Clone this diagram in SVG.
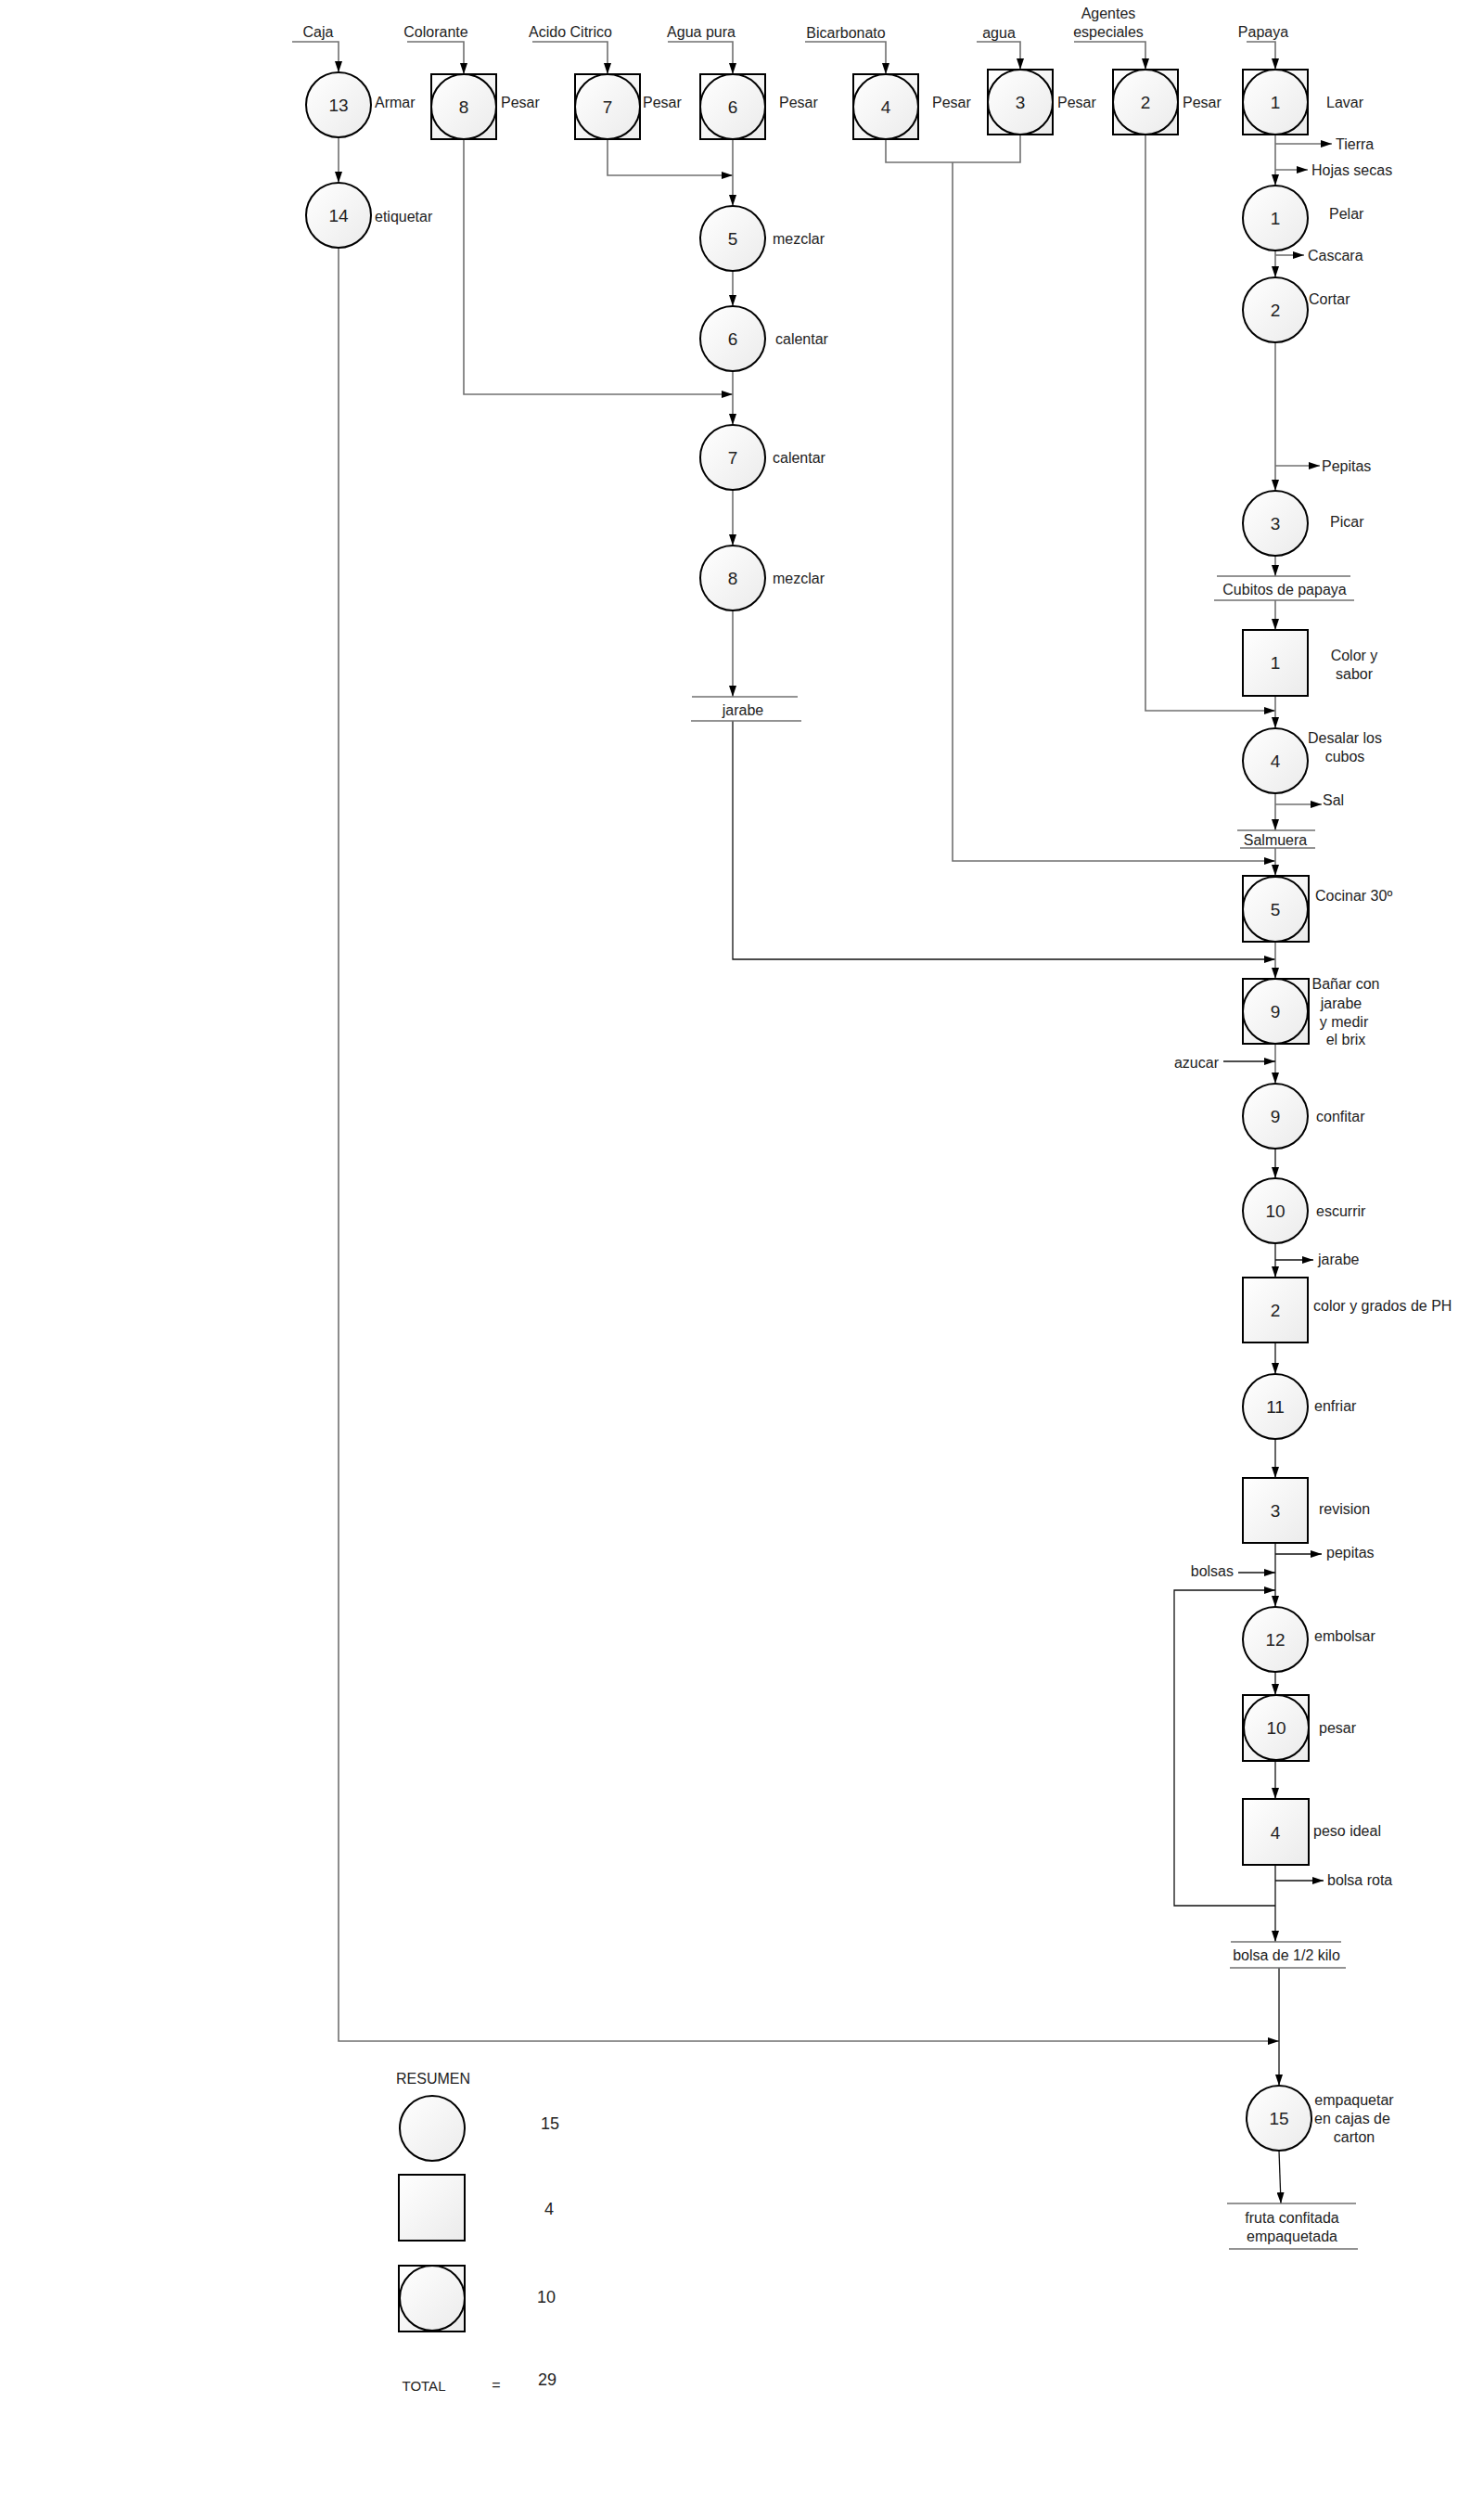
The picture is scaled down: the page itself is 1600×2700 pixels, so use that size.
<svg xmlns="http://www.w3.org/2000/svg" width="1600" height="2700" viewBox="0 0 1600 2700">
<defs>
<linearGradient id="g" x1="0" y1="0" x2="1" y2="1">
<stop offset="0" stop-color="#ffffff"/>
<stop offset="1" stop-color="#ebebeb"/>
</linearGradient>
<marker id="a" markerUnits="userSpaceOnUse" markerWidth="12" markerHeight="8" refX="12" refY="4" orient="auto">
<path d="M0,0 L12,4 L0,8 z" fill="#000"/>
</marker>
</defs>
<style>
.n{fill:url(#g);stroke:#000;stroke-width:2}
.t{font-family:"Liberation Sans",Arial,sans-serif;font-size:16px;fill:#222}
.num{font-family:"Liberation Sans",Arial,sans-serif;font-size:19px;fill:#222;text-anchor:middle}
.m{text-anchor:middle}
.e{text-anchor:end}
.s{font-size:15px}
.c{fill:none;stroke:#707070;stroke-width:1.6}
.k{fill:none;stroke:#111;stroke-width:1.3}
.ar{marker-end:url(#a)}
</style>
<rect width="1600" height="2700" fill="#fff"/>

<g id="connectors">
<path class="c ar" d="M315,45 H365 V78"/>
<path class="c ar" d="M365,148 V197"/>
<path class="c ar" d="M365,267 V2200 H1379"/>
<path class="c ar" d="M439,45 H500 V80"/>
<path class="c ar" d="M500,150 V425 H790"/>
<path class="c ar" d="M574,45 H655 V80"/>
<path class="c ar" d="M655,150 V189 H790"/>
<path class="c ar" d="M720,45 H790 V80"/>
<path class="c ar" d="M790,150 V222"/>
<path class="c ar" d="M790,292 V330"/>
<path class="c ar" d="M790,400 V458"/>
<path class="c ar" d="M790,528 V588"/>
<path class="c ar" d="M790,658 V751"/>
<path class="k ar" d="M790,777 V1034 H1375"/>
<path class="c ar" d="M868,45 H955 V80"/>
<path class="c ar" d="M1053,45 H1100 V75"/>
<path class="c" d="M955,150 V175 H1100 V145"/>
<path class="c ar" d="M1027,175 V928 H1375"/>
<path class="c ar" d="M1158,45 H1235 V75"/>
<path class="c ar" d="M1235,145 V766 H1375"/>
<path class="c ar" d="M1344,45 H1375 V75"/>
<path class="c ar" d="M1375,145 V200"/>
<path class="c ar" d="M1375,155 H1436"/>
<path class="c ar" d="M1375,183 H1410"/>
<path class="c ar" d="M1375,270 V299"/>
<path class="c ar" d="M1375,275 H1406"/>
<path class="c ar" d="M1375,369 V529"/>
<path class="c ar" d="M1375,502 H1423"/>
<path class="c ar" d="M1375,599 V621"/>
<path class="c ar" d="M1375,647 V679"/>
<path class="c ar" d="M1375,750 V785"/>
<path class="c ar" d="M1375,855 V895"/>
<path class="c ar" d="M1375,867 H1425"/>
<path class="c ar" d="M1375,914 V944"/>
<path class="c ar" d="M1375,1015 V1055"/>
<path class="c ar" d="M1375,1125 V1168"/>
<path class="k ar" d="M1319,1144 H1375"/>
<path class="k ar" d="M1375,1238 V1270"/>
<path class="k ar" d="M1375,1340 V1377"/>
<path class="k ar" d="M1375,1358 H1416"/>
<path class="k ar" d="M1375,1447 V1481"/>
<path class="k ar" d="M1375,1551 V1593"/>
<path class="k ar" d="M1375,1663 V1732"/>
<path class="k ar" d="M1375,1675 H1425"/>
<path class="k ar" d="M1335,1695 H1375"/>
<path class="k ar" d="M1375,2054 H1266 V1714 H1375"/>
<path class="k ar" d="M1375,1802 V1827"/>
<path class="k ar" d="M1375,1898 V1939"/>
<path class="k ar" d="M1375,2010 V2093"/>
<path class="k ar" d="M1375,2027 H1427"/>
<path class="k ar" d="M1379,2121 V2248"/>
<path class="k ar" d="M1379,2318 L1381,2375"/>
</g>

<g id="inputs">
<text class="t m" x="343" y="40">Caja</text>
<text class="t m" x="470" y="40">Colorante</text>
<text class="t m" x="615" y="40">Acido Citrico</text>
<text class="t m" x="756" y="40">Agua pura</text>
<text class="t m" x="912" y="41">Bicarbonato</text>
<text class="t m" x="1077" y="41">agua</text>
<text class="t m" x="1195" y="20">Agentes</text>
<text class="t m" x="1195" y="40">especiales</text>
<text class="t m" x="1362" y="40">Papaya</text>
</g>

<g id="n13"><circle class="n" cx="365" cy="113" r="35"/><text class="num" x="365" y="120">13</text><text class="t" x="404" y="116">Armar</text></g>
<g id="n14"><circle class="n" cx="365" cy="232" r="35"/><text class="num" x="365" y="239">14</text><text class="t" x="404" y="239">etiquetar</text></g>
<g id="nc8"><rect class="n" x="465" y="80" width="70" height="70"/><circle class="n" cx="500" cy="115" r="35"/><text class="num" x="500" y="122">8</text><text class="t" x="540" y="116">Pesar</text></g>
<g id="nc7"><rect class="n" x="620" y="80" width="70" height="70"/><circle class="n" cx="655" cy="115" r="35"/><text class="num" x="655" y="122">7</text><text class="t" x="693" y="116">Pesar</text></g>
<g id="nc6"><rect class="n" x="755" y="80" width="70" height="70"/><circle class="n" cx="790" cy="115" r="35"/><text class="num" x="790" y="122">6</text><text class="t" x="840" y="116">Pesar</text></g>
<g id="nc4"><rect class="n" x="920" y="80" width="70" height="70"/><circle class="n" cx="955" cy="115" r="35"/><text class="num" x="955" y="122">4</text><text class="t" x="1005" y="116">Pesar</text></g>
<g id="nc3"><rect class="n" x="1065" y="75" width="70" height="70"/><circle class="n" cx="1100" cy="110" r="35"/><text class="num" x="1100" y="117">3</text><text class="t" x="1140" y="116">Pesar</text></g>
<g id="nc2"><rect class="n" x="1200" y="75" width="70" height="70"/><circle class="n" cx="1235" cy="110" r="35"/><text class="num" x="1235" y="117">2</text><text class="t" x="1275" y="116">Pesar</text></g>
<g id="nc1"><rect class="n" x="1340" y="75" width="70" height="70"/><circle class="n" cx="1375" cy="110" r="35"/><text class="num" x="1375" y="117">1</text><text class="t" x="1430" y="116">Lavar</text></g>

<g id="n5"><circle class="n" cx="790" cy="257" r="35"/><text class="num" x="790" y="264">5</text><text class="t" x="833" y="263">mezclar</text></g>
<g id="n6"><circle class="n" cx="790" cy="365" r="35"/><text class="num" x="790" y="372">6</text><text class="t" x="836" y="371">calentar</text></g>
<g id="n7"><circle class="n" cx="790" cy="493" r="35"/><text class="num" x="790" y="500">7</text><text class="t" x="833" y="499">calentar</text></g>
<g id="n8"><circle class="n" cx="790" cy="623" r="35"/><text class="num" x="790" y="630">8</text><text class="t" x="833" y="629">mezclar</text></g>
<g id="s-jarabe"><path class="c" d="M746,751 H860 M745,777 H864"/><text class="t m" x="801" y="771">jarabe</text></g>

<g id="outputs-top">
<text class="t" x="1440" y="161">Tierra</text>
<text class="t" x="1414" y="189">Hojas secas</text>
<text class="t" x="1410" y="281">Cascara</text>
<text class="t" x="1425" y="508">Pepitas</text>
<text class="t" x="1426" y="868">Sal</text>
</g>

<g id="n1"><circle class="n" cx="1375" cy="235" r="35"/><text class="num" x="1375" y="242">1</text><text class="t" x="1433" y="236">Pelar</text></g>
<g id="n2"><circle class="n" cx="1375" cy="334" r="35"/><text class="num" x="1375" y="341">2</text><text class="t" x="1411" y="328">Cortar</text></g>
<g id="n3"><circle class="n" cx="1375" cy="564" r="35"/><text class="num" x="1375" y="571">3</text><text class="t" x="1434" y="568">Picar</text></g>
<g id="s-cubitos"><path class="c" d="M1312,621 H1456 M1309,647 H1460"/><text class="t m" x="1385" y="641">Cubitos de papaya</text></g>
<g id="i1"><rect class="n" x="1340" y="679" width="70" height="71"/><text class="num" x="1375" y="721">1</text><text class="t m" x="1460" y="712">Color y</text><text class="t m" x="1460" y="732">sabor</text></g>
<g id="n4"><circle class="n" cx="1375" cy="820" r="35"/><text class="num" x="1375" y="827">4</text><text class="t m" x="1450" y="801">Desalar los</text><text class="t m" x="1450" y="821">cubos</text></g>
<g id="s-salmuera"><path class="c" d="M1334,895 H1418 M1337,914 H1418"/><text class="t m" x="1375" y="911">Salmuera</text></g>
<g id="nc5"><rect class="n" x="1340" y="944" width="71" height="71"/><circle class="n" cx="1375" cy="980" r="35"/><text class="num" x="1375" y="987">5</text><text class="t" x="1418" y="971">Cocinar 30º</text></g>
<g id="nc9"><rect class="n" x="1340" y="1055" width="71" height="70"/><circle class="n" cx="1375" cy="1090" r="35"/><text class="num" x="1375" y="1097">9</text><text class="t m" x="1451" y="1066">Bañar con</text><text class="t m" x="1446" y="1087">jarabe</text><text class="t m" x="1449" y="1107">y medir</text><text class="t m" x="1451" y="1126">el brix</text></g>
<text class="t e" x="1314" y="1151">azucar</text>
<g id="n9"><circle class="n" cx="1375" cy="1203" r="35"/><text class="num" x="1375" y="1210">9</text><text class="t" x="1419" y="1209">confitar</text></g>
<g id="n10"><circle class="n" cx="1375" cy="1305" r="35"/><text class="num" x="1375" y="1312">10</text><text class="t" x="1419" y="1311">escurrir</text></g>
<text class="t" x="1421" y="1363">jarabe</text>
<g id="i2"><rect class="n" x="1340" y="1377" width="70" height="70"/><text class="num" x="1375" y="1419">2</text><text class="t" x="1416" y="1413">color y grados de PH</text></g>
<g id="n11"><circle class="n" cx="1375" cy="1516" r="35"/><text class="num" x="1375" y="1523">11</text><text class="t" x="1417" y="1521">enfriar</text></g>
<g id="i3"><rect class="n" x="1340" y="1593" width="70" height="70"/><text class="num" x="1375" y="1635">3</text><text class="t" x="1422" y="1632">revision</text></g>
<text class="t" x="1430" y="1679">pepitas</text>
<text class="t e" x="1330" y="1699">bolsas</text>
<g id="n12"><circle class="n" cx="1375" cy="1767" r="35"/><text class="num" x="1375" y="1774">12</text><text class="t" x="1417" y="1769">embolsar</text></g>
<g id="nc10"><rect class="n" x="1340" y="1827" width="71" height="71"/><circle class="n" cx="1376" cy="1862" r="35"/><text class="num" x="1376" y="1869">10</text><text class="t" x="1422" y="1868">pesar</text></g>
<g id="i4"><rect class="n" x="1340" y="1939" width="71" height="71"/><text class="num" x="1375" y="1982">4</text><text class="t" x="1416" y="1979">peso ideal</text></g>
<text class="t" x="1431" y="2032">bolsa rota</text>
<g id="s-bolsa"><path class="c" d="M1327,2093 H1446 M1326,2121 H1451"/><text class="t m" x="1387" y="2113">bolsa de 1/2 kilo</text></g>
<g id="n15"><circle class="n" cx="1379" cy="2283" r="35"/><text class="num" x="1379" y="2290">15</text><text class="t m" x="1460" y="2269">empaquetar</text><text class="t m" x="1458" y="2289">en cajas de</text><text class="t m" x="1460" y="2309">carton</text></g>
<g id="s-fruta"><path class="c" d="M1323,2375 H1462 M1325,2424 H1464"/><text class="t m" x="1393" y="2396">fruta confitada</text><text class="t m" x="1393" y="2416">empaquetada</text></g>

<g id="resumen">
<text class="t m" x="467" y="2246">RESUMEN</text>
<circle class="n" cx="466" cy="2294" r="35"/>
<text class="t m" x="593" y="2295" style="font-size:18px">15</text>
<rect class="n" x="430" y="2344" width="71" height="71"/>
<text class="t m" x="592" y="2387" style="font-size:18px">4</text>
<rect class="n" x="430" y="2442" width="71" height="71"/>
<circle class="n" cx="466" cy="2477" r="35"/>
<text class="t m" x="589" y="2482" style="font-size:18px">10</text>
<text class="t s m" x="457" y="2577">TOTAL</text>
<text class="t m" x="535" y="2576">=</text>
<text class="t m" x="590" y="2571" style="font-size:18px">29</text>
</g>
</svg>
